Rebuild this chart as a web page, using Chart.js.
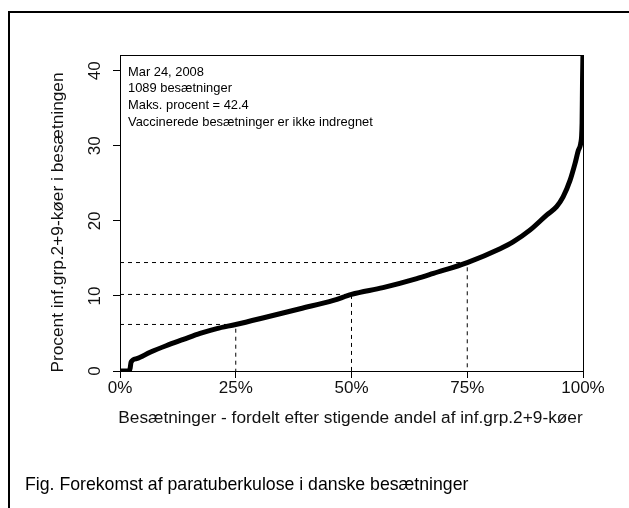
<!DOCTYPE html>
<html><head><meta charset="utf-8">
<script src="https://cdn.jsdelivr.net/npm/chart.js@4/dist/chart.umd.min.js"></script>
<style>html,body{margin:0;padding:0;background:#fff}#wrap{position:relative;width:629px;height:508px}</style>
</head><body><div id="wrap"><canvas id="c"></canvas></div>
<script>
// Sorted herd distribution (percentile of herds -> percent infected cows)
const pctHerds    = [0, 2.0, 2.2, 2.4, 3.6, 6.5, 10.1, 13.7, 17.3, 20.9, 25, 31.7, 38.9, 46.1, 50, 56.8, 64.1, 67.7, 75, 82.1, 84.9, 88.6, 92.2, 94.3, 95.7, 97.2, 98.3, 99.0, 99.5, 99.8, 99.9, 100];
const pctInfected = [0, 0, 0.4, 1.2, 1.65, 2.5, 3.4, 4.2, 5.0, 5.65, 6.2, 7.2, 8.3, 9.4, 10.2, 11.1, 12.3, 13.0, 14.45, 16.3, 17.2, 18.8, 20.8, 21.9, 23.2, 25.4, 27.7, 29.4, 30.3, 33.0, 38.8, 42.4];
const quartiles = [25, 50, 75];
const quartileValues = [6.2, 10.2, 14.45];
const xTicks = [0, 25, 50, 75, 100];
const yTicks = [0, 10, 20, 30, 40];
const noteLines = ["Mar 24, 2008", "1089 besætninger", "Maks. procent = 42.4", "Vaccinerede besætninger er ikke indregnet"];
const xTitle = "Besætninger - fordelt efter stigende andel af inf.grp.2+9-køer";
const yTitle = "Procent inf.grp.2+9-køer i besætningen";
const caption = "Fig. Forekomst af paratuberkulose i danske besætninger";

const FONT = '"Liberation Sans", Arial, sans-serif';

const curve = pctHerds.map((x, i) => ({x, y: pctInfected[i]}));
const refSets = quartiles.map((q, i) => ({
  data: [{x: 0, y: quartileValues[i]}, {x: q, y: quartileValues[i]}, {x: q, y: 0}],
  borderColor: '#000', borderWidth: 1, borderDash: [4, 4], pointRadius: 0,
  showLine: true, fill: false, tension: 0, order: 2
}));

const decor = {
  id: 'decor',
  beforeDraw(chart) {
    const ctx = chart.ctx;
    ctx.save();
    ctx.fillStyle = '#fff';
    ctx.fillRect(0, 0, chart.width, chart.height);
    ctx.strokeStyle = '#000';
    ctx.lineWidth = 2;
    ctx.strokeRect(9, 12, chart.width + 20, chart.height + 20);
    ctx.restore();
  },
  afterDraw(chart) {
    const ctx = chart.ctx, a = chart.chartArea;
    ctx.save();
    ctx.strokeStyle = '#000';
    ctx.lineWidth = 1;
    ctx.beginPath();
    ctx.moveTo(a.left, a.top + 0.5);
    ctx.lineTo(a.right + 1, a.top + 0.5);
    ctx.moveTo(a.right + 0.5, a.top);
    ctx.lineTo(a.right + 0.5, a.bottom + 7);
    ctx.stroke();

    ctx.fillStyle = '#000';
    ctx.font = '12.9px ' + FONT;
    ctx.textAlign = 'left';
    ctx.textBaseline = 'middle';
    noteLines.forEach((t, i) => ctx.fillText(t, a.left + 8, a.top + 17 + i * 16.7));

    ctx.fillStyle = '#111';
    ctx.font = '17.3px ' + FONT;
    ctx.textAlign = 'center';
    ctx.textBaseline = 'alphabetic';
    ctx.fillText(xTitle, (a.left + a.right) / 2 - 1, 422.5);

    ctx.save();
    ctx.translate(58, 222.5);
    ctx.rotate(-Math.PI / 2);
    ctx.textBaseline = 'middle';
    ctx.fillText(yTitle, 0, 0);
    ctx.restore();

    ctx.fillStyle = '#000';
    ctx.font = '17.7px ' + FONT;
    ctx.textAlign = 'left';
    ctx.fillText(caption, 25, 490);
    ctx.restore();
  }
};

new Chart(document.getElementById('c'), {
  type: 'scatter',
  data: {
    datasets: [
      {data: curve, borderColor: '#000', backgroundColor: '#000', borderWidth: 5,
       showLine: true, pointRadius: 0, cubicInterpolationMode: 'monotone', fill: false, order: 1,
       borderCapStyle: 'butt', borderJoinStyle: 'round'},
      ...refSets
    ]
  },
  options: {
    responsive: true, maintainAspectRatio: false, animation: false,
    layout: {padding: {left: 0, top: 55, right: 46, bottom: 0}},
    plugins: {legend: {display: false}, tooltip: {enabled: false}},
    scales: {
      x: {
        type: 'linear', min: 0, max: 100,
        afterBuildTicks: s => { s.ticks = xTicks.map(v => ({value: v})); },
        afterFit: s => { s.height = 137; },
        ticks: {callback: v => v + '%', color: '#111', padding: 0, maxRotation: 0,
                font: {family: FONT, size: 17}},
        grid: {drawOnChartArea: false, drawTicks: true, tickLength: 7, color: '#000'},
        border: {display: true, color: '#000', width: 1}
      },
      y: {
        type: 'linear', min: 0, max: 42.1,
        afterBuildTicks: s => { s.ticks = yTicks.map(v => ({value: v})); },
        afterFit: s => { s.width = 120; },
        ticks: {color: '#111', padding: 8.5, minRotation: 90, maxRotation: 90, crossAlign: 'center',
                font: {family: FONT, size: 17}},
        grid: {drawOnChartArea: false, drawTicks: true, tickLength: 7, color: '#000'},
        border: {display: true, color: '#000', width: 1}
      }
    }
  },
  plugins: [decor]
});
</script>
</body></html>
